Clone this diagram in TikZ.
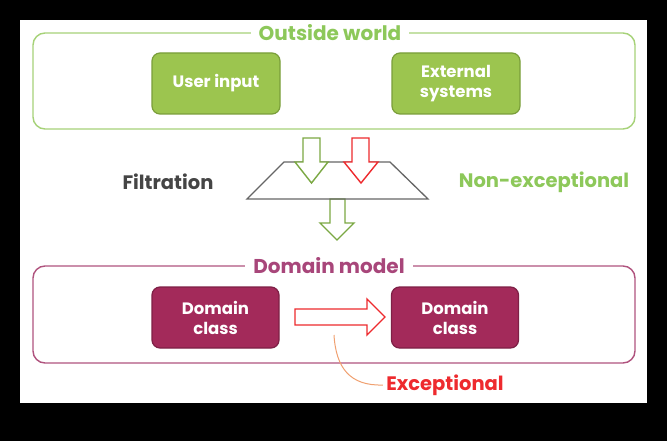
\documentclass[tikz,border=0pt]{standalone}
\usepackage{fontspec}
\setmainfont{Poppins}
\definecolor{gfill}{HTML}{9CC54F}
\definecolor{gdraw}{HTML}{7A9E3A}
\definecolor{gframe}{HTML}{A6D278}
\definecolor{gtext}{HTML}{8DC85A}
\definecolor{mfill}{HTML}{A32A5A}
\definecolor{mdraw}{HTML}{7E2046}
\definecolor{mframe}{HTML}{B0537E}
\definecolor{mtext}{HTML}{A8467A}
\definecolor{rline}{HTML}{EE2A2E}
\definecolor{arrgreen}{HTML}{7BA843}
\definecolor{orangec}{HTML}{F0A070}
\definecolor{graytext}{HTML}{454545}
\begin{document}
\begin{tikzpicture}[x=1pt,y=-1pt,
  frame/.style={rounded corners=12pt,line width=1.4pt},
  gbox/.style={draw=gdraw,fill=gfill,line width=1.2pt,rounded corners=8pt,minimum width=128pt,minimum height=61pt,text=white,font=\bfseries\fontsize{16.5}{20}\selectfont,align=center,inner sep=0pt},
  mbox/.style={draw=mdraw,fill=mfill,line width=1.2pt,rounded corners=8pt,minimum width=127pt,minimum height=61pt,text=white,font=\bfseries\fontsize{16.5}{20}\selectfont,align=center,inner sep=0pt},
  title/.style={fill=white,inner xsep=8pt,inner ysep=2pt,font=\bfseries\fontsize{20}{22}\selectfont},
  blk/.style={fill=white,line width=1.4pt,line join=miter},
  lbl/.style={font=\bfseries\fontsize{19.5}{22}\selectfont}]
\useasboundingbox (0,0) rectangle (667,441);
\fill[black] (0,0) rectangle (667,441);
\fill[white] (20,20) rectangle (647,403);
% outside world frame
\draw[frame,draw=gframe] (33,33) rectangle (635,129);
\node[title,text=gtext] (ow) at (330,33) {Outside world};
\node[gbox] (ui) at (216,83.5) {User input};
\node[gbox] (es) at (456,83.5) {External\\systems};
% filtration
\draw[blk,draw=arrgreen] (330,199) -- (345,199) -- (345,223) -- (354,223) -- (337,240) -- (320,223) -- (330,223) -- cycle;
\draw[line width=1.3pt,draw=gray!80!black] (284,162) -- (390,162) -- (428,199) -- (247,199) -- cycle;
\draw[blk,draw=arrgreen] (303,138) -- (320,138) -- (320,162) -- (328,162) -- (311.5,183) -- (295,162) -- (303,162) -- cycle;
\draw[blk,draw=rline] (352,138) -- (369,138) -- (369,162) -- (378,162) -- (361,183) -- (344,162) -- (352,162) -- cycle;
\node[lbl,text=graytext] (fil) at (168,182) {Filtration};
\node[lbl,text=gtext] (ne) at (544,182) {Non-exceptional};
% domain model frame
\draw[frame,draw=mframe] (33,266) rectangle (635,363);
\node[title,text=mtext] (dm) at (329,266) {Domain model};
\node[mbox] (dc1) at (215.5,317.5) {Domain\\class};
\node[mbox] (dc2) at (455,317.5) {Domain\\class};
\draw[blk,draw=rline] (295,309) -- (367,309) -- (367,299) -- (385,317) -- (367,335) -- (367,325) -- (295,325) -- cycle;
\node[lbl,text=rline] (ex) at (445,385) {Exceptional};
\coordinate (cs) at (334,335);
\draw[orangec,line width=1pt] (cs) .. controls (336,368) and (350,386) .. (ex.west);
\end{tikzpicture}
\end{document}
